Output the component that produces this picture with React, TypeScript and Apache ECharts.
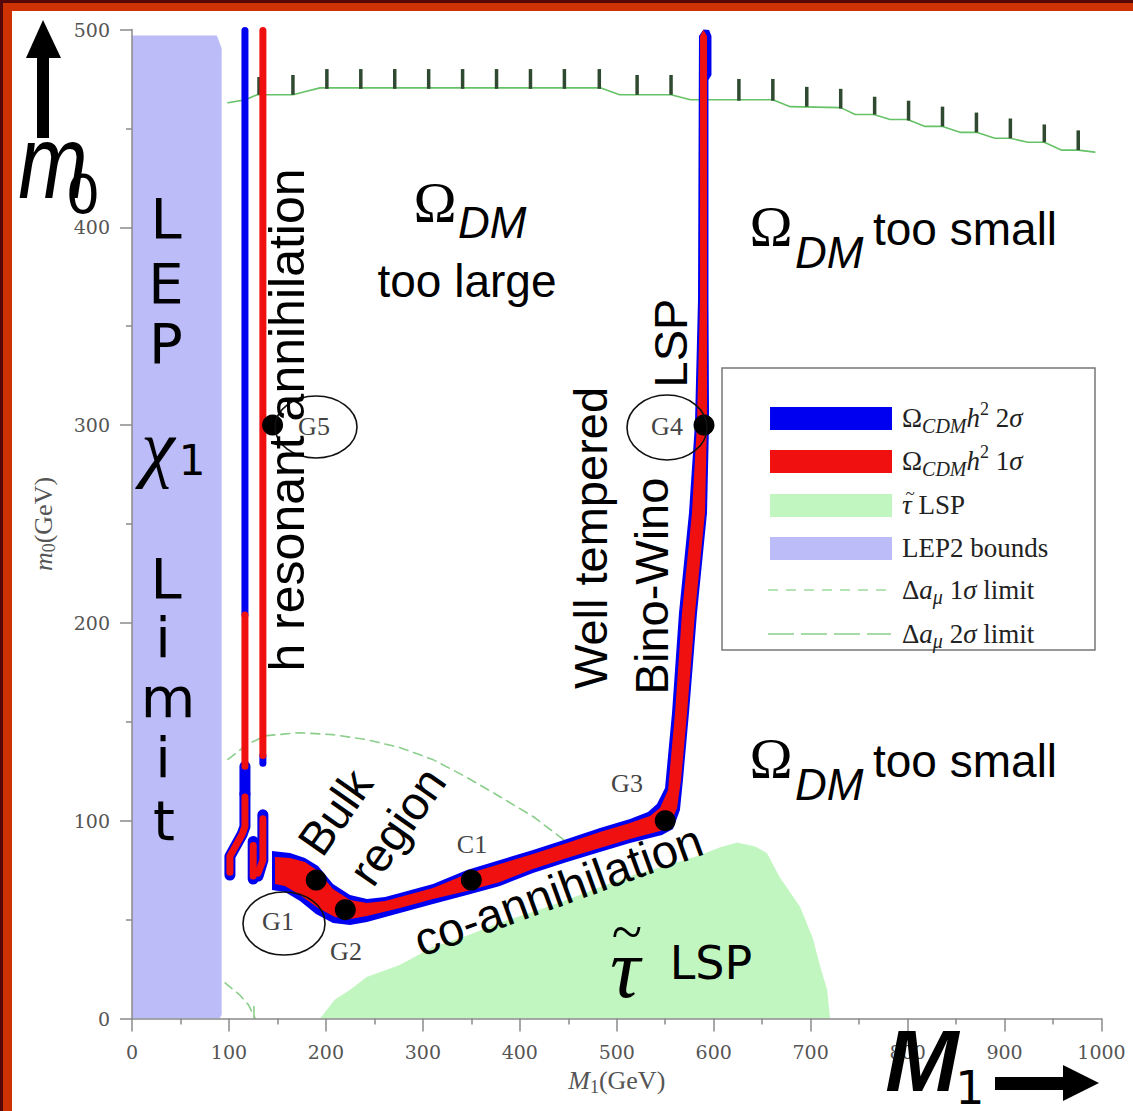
import React, { useEffect, useRef } from 'react';
import * as echarts from 'echarts';

// ---------------- data (all in GeV) ----------------
const X_MIN = 0, X_MAX = 1000, X_STEP = 100;
const Y_MIN = 0, Y_MAX = 500, Y_STEP = 100;

const LEP2_BOUNDS: number[][] = [[0, 0], [0, 497], [87.5, 497], [92.5, 490.5], [92.5, 2], [90.5, 0]];

const STAU_LSP: number[][] = [[194, 0], [209, 9.5], [225, 14.5], [242, 21], [276, 27], [310, 36], [346, 42], [380, 48.5], [414, 54], [449, 60], [483, 66.5], [517, 72.5], [552, 77.5], [586, 82.5], [606, 86.5], [624, 89], [643, 87], [655, 83.5], [668, 71.5], [689, 56.5], [702, 41], [710, 26], [717, 14.5], [720, 0]];

const OMEGA_2SIGMA_STRIP: number[][] = [[144.4, 84.7], [163, 83.7], [178.4, 81.1], [191.9, 77.1], [207.3, 68], [224.9, 62.4], [242.4, 60.4], [261, 61.4], [276.4, 63.4], [310.5, 68], [345.5, 75.1], [379.6, 80.1], [413.6, 85.2], [448.7, 90.8], [482.7, 96.3], [513.7, 100.9], [532.2, 104.4], [541.5, 108.4], [549.8, 116.5], [557, 154.5], [564.2, 205], [574.5, 255.6], [580.7, 301.1], [583.8, 363.2], [584.8, 496.7], [589.5, 500], [595.2, 499.8], [597.7, 496.7], [597.7, 477], [594.6, 474.5], [594.6, 363.2], [595.2, 301.1], [593.1, 255.6], [582.8, 205], [574.5, 154.5], [568.3, 120.6], [565.2, 105.4], [558, 95.8], [546.7, 92.8], [513.7, 88.7], [482.7, 84.2], [448.7, 79.1], [413.6, 73.6], [379.6, 67], [345.5, 62.4], [310.5, 57.9], [276.4, 53.3], [242.4, 48.8], [224.9, 47.3], [207.3, 48.3], [189.8, 52.8], [173.3, 59.4], [157.8, 64], [144.4, 65]];

const OMEGA_1SIGMA_STRIP: number[][] = [[147.5, 81.7], [163, 81.1], [178.4, 79.1], [191.9, 74.6], [207.3, 65.5], [224.9, 59.9], [242.4, 58.4], [261, 59.4], [276.4, 61.4], [310.5, 66], [345.5, 73.1], [379.6, 78.1], [413.6, 83.2], [448.7, 88.7], [482.7, 94.3], [513.7, 98.8], [534.3, 102.4], [544.6, 106.4], [552.9, 115.5], [560.1, 154.5], [567.3, 205], [577.6, 255.6], [582.8, 301.1], [585.9, 363.2], [585.9, 496.7], [589.5, 499.8], [593.1, 496.7], [593.1, 363.2], [593.1, 301.1], [591, 255.6], [580.7, 205], [572.5, 154.5], [566.3, 120.6], [562.2, 106.4], [554.9, 97.8], [544.6, 94.8], [513.7, 90.8], [482.7, 86.2], [448.7, 81.1], [413.6, 75.6], [379.6, 69], [345.5, 64.5], [310.5, 60.4], [276.4, 55.9], [242.4, 51.8], [224.9, 50.3], [209.4, 51.3], [191.9, 55.9], [173.3, 62.4], [157.8, 67], [147.5, 68]];

// narrow h-resonance funnels
const OMEGA_2SIGMA_THIN: number[][][] = [
  [[116.5, 499.5], [116.5, 204]],
  [[135, 133], [135, 129]],
];
const OMEGA_2SIGMA_EDGE: number[][][] = [
  [[116.5, 127.5], [116.5, 113.5]],
  [[116.5, 113.5], [116.5, 97], [113.5, 93], [101, 82], [101, 72.5]],
  [[135, 103], [135, 80], [130, 72]],
  [[125, 89.5], [125, 70.5]],
];
const OMEGA_1SIGMA_LINES: number[][][] = [
  [[116.5, 204], [116.5, 127.5]],
  [[116.5, 112], [116.5, 97], [113.5, 93], [101, 82], [101, 74]],
  [[135, 499.5], [135, 133]],
  [[135, 101], [135, 80], [130, 73.5]],
  [[125, 87.5], [125, 72]],
];

const DELTA_A_1SIGMA: number[][] = [[99, 131], [120, 139], [139, 143], [173, 144.5], [207, 143.5], [242, 141], [276, 137], [310, 131], [345, 122], [380, 112], [414, 102], [449, 89]];
const DELTA_A_1SIGMA_LOW: number[][] = [[96, 18], [111, 12], [120, 7], [127, 0]];
const DELTA_A_2SIGMA_LOW: number[][] = [[125.8, 6], [125.8, 0.5]];
const DELTA_A_2SIGMA_TOP: number[][] = [[99, 463], [117, 464.5], [129, 467], [166, 467], [178, 468.5], [194, 470.5], [483, 470.5], [503, 467], [556, 467], [576, 464.5], [661, 464.5], [679, 461], [731, 460.5], [746, 457], [765, 457], [782, 454.5], [800, 454.5], [818, 451], [836, 451], [854, 448], [871, 448], [890, 445], [906, 445], [924, 443], [941, 443], [959, 439], [976, 439], [993, 438]];
const COMB_X = [131, 166, 201, 236, 271, 306, 341, 376, 411, 446, 482, 521, 556, 591, 626, 661, 696, 731, 766, 801, 836, 871, 906, 941, 976];
const COMB_BOTTOM = [467, 467, 470, 470, 470, 470, 470, 470, 470, 470, 470, 467, 467, 464, 464, 464, 461, 460, 457, 454, 451, 448, 445, 443, 439];
const COMB_TOP = [476, 477, 480, 480, 480, 480, 480, 480, 480, 480, 480, 477, 477, 474, 475, 475, 471, 470, 466, 464, 461, 458, 455, 452, 449];

const BENCH_NAMES = ['G1', 'G2', 'C1', 'G3', 'G4', 'G5'];
const BENCH_M1 = [190, 220, 350, 550, 590, 145];
const BENCH_M0 = [70, 55, 70, 100, 300, 300];

// ---------------- styles ----------------
const SANS = '"Liberation Sans", Arial, sans-serif';
const SERIF = '"Liberation Serif", "Times New Roman", serif';
const DSANS = '"DejaVu Sans", sans-serif';
const DSERIF = '"DejaVu Serif", serif';
const BLUE = '#0000f0';
const RED = '#f01010';
const AXIS = '#8a8a8a';
const deg = (d: number) => (d * Math.PI) / 180;

function txt(x: number, y: number, text: string, font: string, opt: any = {}) {
  const style: any = {
    text, font, fill: opt.fill ?? '#000',
    align: opt.align ?? 'center', verticalAlign: 'middle',
    textAlign: opt.align ?? 'center', textVerticalAlign: 'middle',
  };
  if (opt.rich) style.rich = opt.rich;
  return {
    type: 'text', x, y, z: 100, silent: true,
    rotation: opt.rot ? deg(opt.rot) : 0,
    scaleX: opt.sx ?? 1,
    style,
  };
}

const LEG = '#222';
function rs(size: number, italic = false, pad?: number[]) {
  const o: any = { fontFamily: SERIF, fontSize: size, fontStyle: italic ? 'italic' : 'normal', fill: LEG };
  if (pad) o.padding = pad;
  return o;
}
const LEG_RICH = {
  n: rs(27), o: rs(27), h: rs(27, true), g: rs(27, true),
  s: rs(20, true, [16, 0, 0, 0]), p: rs(18, false, [0, 0, 18, 0]), m: rs(20, true, [14, 0, 0, 0]),
};

function polygonSeries(pts: number[][], color: string, z: number) {
  return {
    type: 'custom', coordinateSystem: 'cartesian2d', z, silent: true,
    data: pts, encode: { x: 0, y: 1 },
    renderItem: (params: any, api: any) =>
      params.dataIndex === 0
        ? { type: 'polygon', shape: { points: pts.map((p) => api.coord(p)) }, style: { fill: color } }
        : null,
  };
}
function lineSeries(pts: number[][], color: string, width: number, z: number, dash?: number[]) {
  return {
    type: 'line', data: pts, symbol: 'none', showSymbol: false, z, silent: true,
    lineStyle: { color, width, cap: 'round', join: 'round', type: dash ?? 'solid' },
    emphasis: { disabled: true },
  };
}

const AX_RICH = (c: string) => ({
  i: { fontFamily: SERIF, fontSize: 26, fontStyle: 'italic', color: c },
  s: { fontFamily: SERIF, fontSize: 18, color: c, padding: [12, 0, 0, 0] },
  n: { fontFamily: SERIF, fontSize: 26, color: c },
});

export default function App() {
  const ref = useRef<HTMLDivElement>(null);
  useEffect(() => {
    const chart = echarts.init(ref.current!, null, { renderer: 'svg' });
    const graphicEls: any[] = [
      // legend
      { type: 'rect', z: 50, silent: true, shape: { x: 722, y: 368, width: 373, height: 282 }, style: { fill: '#fff', stroke: '#777', lineWidth: 1.5 } },
      { type: 'rect', z: 51, silent: true, shape: { x: 770, y: 407, width: 122, height: 23 }, style: { fill: BLUE } },
      { type: 'rect', z: 51, silent: true, shape: { x: 770, y: 450, width: 122, height: 23 }, style: { fill: RED } },
      { type: 'rect', z: 51, silent: true, shape: { x: 770, y: 494, width: 122, height: 23 }, style: { fill: '#c1f6c1' } },
      { type: 'rect', z: 51, silent: true, shape: { x: 770, y: 537, width: 122, height: 23 }, style: { fill: '#bcbcf8' } },
      { type: 'line', z: 51, silent: true, shape: { x1: 768, y1: 590, x2: 891, y2: 590 }, style: { stroke: '#b5e5b5', lineWidth: 2, lineDash: [10, 8] } },
      { type: 'line', z: 51, silent: true, shape: { x1: 768, y1: 634, x2: 891, y2: 634 }, style: { stroke: '#a6dba6', lineWidth: 2, lineDash: [26, 7] } },
      txt(902, 418, '{o|Ω}{s|CDM}{h|h}{p|2}{n| 2}{g|σ}', `27px ${SERIF}`, { align: 'left', rich: LEG_RICH, fill: LEG }),
      txt(902, 461, '{o|Ω}{s|CDM}{h|h}{p|2}{n| 1}{g|σ}', `27px ${SERIF}`, { align: 'left', rich: LEG_RICH, fill: LEG }),
      txt(902, 505, '{g|τ}{n| LSP}', `27px ${SERIF}`, { align: 'left', rich: LEG_RICH, fill: LEG }),
      txt(910, 493, '~', `17px ${SERIF}`, { fill: LEG }),
      txt(902, 548, '{n|LEP2 bounds}', `27px ${SERIF}`, { align: 'left', rich: LEG_RICH, fill: LEG }),
      txt(902, 590, '{n|Δ}{h|a}{m|μ}{n| 1}{g|σ}{n| limit}', `27px ${SERIF}`, { align: 'left', rich: LEG_RICH, fill: LEG }),
      txt(902, 634, '{n|Δ}{h|a}{m|μ}{n| 2}{g|σ}{n| limit}', `27px ${SERIF}`, { align: 'left', rich: LEG_RICH, fill: LEG }),

      // benchmark ellipses and labels
      { type: 'ellipse', z: 90, silent: true, shape: { cx: 284, cy: 923.5, rx: 41, ry: 31.5 }, style: { fill: 'none', stroke: '#111', lineWidth: 1.6 } },
      { type: 'ellipse', z: 90, silent: true, shape: { cx: 316, cy: 427, rx: 41, ry: 31 }, style: { fill: 'none', stroke: '#111', lineWidth: 1.6 } },
      { type: 'ellipse', z: 90, silent: true, shape: { cx: 667, cy: 427.5, rx: 40, ry: 32.5 }, style: { fill: 'none', stroke: '#111', lineWidth: 1.6 } },
      txt(278, 921, BENCH_NAMES[0], `26px ${SERIF}`, { fill: '#444' }),
      txt(346, 951, BENCH_NAMES[1], `26px ${SERIF}`, { fill: '#444' }),
      txt(472, 844, BENCH_NAMES[2], `26px ${SERIF}`, { fill: '#444' }),
      txt(627, 783, BENCH_NAMES[3], `26px ${SERIF}`, { fill: '#444' }),
      txt(667, 426, BENCH_NAMES[4], `26px ${SERIF}`, { fill: '#444' }),
      txt(314, 426, BENCH_NAMES[5], `26px ${SERIF}`, { fill: '#444' }),

      // big annotations
      txt(435, 202, 'Ω', `58px ${SERIF}`),
      txt(458, 222, 'DM', `italic 44px ${SANS}`, { align: 'left' }),
      txt(467, 281, 'too large', `46px ${SANS}`),
      txt(771, 226, 'Ω', `58px ${SERIF}`),
      txt(795, 252, 'DM', `italic 44px ${SANS}`, { align: 'left' }),
      txt(873, 229, 'too small', `46px ${SANS}`, { align: 'left' }),
      txt(771, 758, 'Ω', `58px ${SERIF}`),
      txt(795, 784, 'DM', `italic 44px ${SANS}`, { align: 'left' }),
      txt(873, 761, 'too small', `46px ${SANS}`, { align: 'left' }),

      txt(166, 218, 'L', `56px ${DSANS}`),
      txt(166, 283, 'E', `56px ${DSANS}`),
      txt(166, 343, 'P', `56px ${DSANS}`),
      txt(158, 447, 'χ', `italic 76px ${SERIF}`),
      txt(192, 460, '1', `42px ${DSANS}`),
      txt(166, 578, 'L', `56px ${DSANS}`),
      txt(163, 637, 'i', `56px ${DSANS}`),
      txt(168, 697, 'm', `56px ${DSANS}`),
      txt(163, 757, 'i', `56px ${DSANS}`),
      txt(164, 820, 't', `56px ${DSANS}`),

      txt(287, 420, 'h resonant annihilation', `50px ${SANS}`, { rot: 90 }),
      txt(590, 538, 'Well tempered', `47px ${SANS}`, { rot: 90 }),
      txt(651, 586, 'Bino-Wino', `47px ${SANS}`, { rot: 90 }),
      txt(670, 343, 'LSP', `47px ${SANS}`, { rot: 90 }),
      txt(335, 812, 'Bulk', `47px ${SANS}`, { rot: 55 }),
      txt(397, 826, 'region', `47px ${SANS}`, { rot: 55 }),
      txt(558, 890, 'co-annihilation', `47px ${SANS}`, { rot: 20 }),

      txt(625, 968, 'τ', `italic 84px ${SERIF}`),
      txt(627, 932, '~', `56px ${SERIF}`),
      txt(711, 963, 'LSP', `46px ${DSANS}`),

      // axis arrows
      txt(53, 162, 'm', `italic 104px ${SANS}`, { sx: 0.8 }),
      txt(83, 194, '0', `54px ${DSANS}`),
      { type: 'rect', z: 100, silent: true, shape: { x: 37, y: 55, width: 12, height: 83 }, style: { fill: '#000' } },
      { type: 'polygon', z: 100, silent: true, shape: { points: [[26, 58], [43, 20], [61, 58]] }, style: { fill: '#000' } },
      txt(922, 1060, 'M', `italic bold 88px ${SANS}`),
      txt(970, 1088, '1', `46px ${DSANS}`),
      { type: 'rect', z: 100, silent: true, shape: { x: 995, y: 1077, width: 70, height: 13 }, style: { fill: '#000' } },
      { type: 'polygon', z: 100, silent: true, shape: { points: [[1063, 1065], [1099, 1083], [1063, 1101]] }, style: { fill: '#000' } },
    ];

    const series: any[] = [
      polygonSeries(LEP2_BOUNDS, '#bcbcf8', 1),
      polygonSeries(STAU_LSP, '#c1f6c1', 1),
      lineSeries(DELTA_A_1SIGMA, '#8ccf8c', 1.6, 2, [9, 6]),
      lineSeries(DELTA_A_1SIGMA_LOW, '#8ccf8c', 1.6, 2, [9, 6]),
      lineSeries(DELTA_A_2SIGMA_LOW, '#8ccf8c', 1.6, 2),
      lineSeries(DELTA_A_2SIGMA_TOP, '#66c266', 1.6, 2),
      {
        type: 'custom', coordinateSystem: 'cartesian2d', z: 3, silent: true,
        data: COMB_X.map((x, i) => [x, COMB_BOTTOM[i], COMB_TOP[i]]),
        encode: { x: 0, y: [1, 2] },
        renderItem: (params: any, api: any) => {
          const a = api.coord([api.value(0), api.value(1)]);
          const b = api.coord([api.value(0), api.value(2)]);
          return { type: 'line', shape: { x1: a[0], y1: a[1], x2: b[0], y2: b[1] }, style: { stroke: '#2f4a30', lineWidth: 3.5 } };
        },
      },
      polygonSeries(OMEGA_2SIGMA_STRIP, BLUE, 4),
      polygonSeries(OMEGA_1SIGMA_STRIP, RED, 5),
      ...OMEGA_2SIGMA_THIN.map((p) => lineSeries(p, BLUE, 7, 4)),
      ...OMEGA_2SIGMA_EDGE.map((p) => lineSeries(p, BLUE, 11, 4)),
      ...OMEGA_1SIGMA_LINES.map((p) => lineSeries(p, RED, 7, 5)),
      {
        type: 'scatter', z: 10, silent: true, symbol: 'circle', symbolSize: 21,
        itemStyle: { color: '#000', opacity: 1 },
        data: BENCH_M1.map((x, i) => [x, BENCH_M0[i]]),
      },
    ];

    chart.setOption({
      animation: false,
      textStyle: { fontFamily: SERIF },
      grid: { left: 132, right: 31.5, top: 29.5, bottom: 92.5, containLabel: false },
      xAxis: {
        type: 'value', min: X_MIN, max: X_MAX, interval: X_STEP, z: 6,
        axisLine: { show: true, onZero: false, lineStyle: { color: AXIS, width: 1.5 } },
        axisTick: { show: true, length: 13, lineStyle: { color: AXIS, width: 1.5 } },
        minorTick: { show: true, splitNumber: 2, length: 6, lineStyle: { color: AXIS, width: 1.5 } },
        splitLine: { show: false }, minorSplitLine: { show: false },
        axisLabel: { margin: 24, fontFamily: DSERIF, fontSize: 19, color: '#555', formatter: (v: number) => String(v) },
        name: '{i|M}{s|1}{n|(GeV)}', nameLocation: 'middle', nameGap: 47,
        nameTextStyle: { fontFamily: SERIF, fontSize: 26, color: '#555', rich: AX_RICH('#555') },
      },
      yAxis: {
        type: 'value', min: Y_MIN, max: Y_MAX, interval: Y_STEP, z: 6,
        axisLine: { show: true, onZero: false, lineStyle: { color: AXIS, width: 1.5 } },
        axisTick: { show: true, length: 12, lineStyle: { color: AXIS, width: 1.5 } },
        minorTick: { show: true, splitNumber: 2, length: 6, lineStyle: { color: AXIS, width: 1.5 } },
        splitLine: { show: false }, minorSplitLine: { show: false },
        axisLabel: { margin: 22, fontFamily: DSERIF, fontSize: 19, color: '#555', formatter: (v: number) => String(v) },
        name: '{i|m}{s|0}{n|(GeV)}', nameLocation: 'middle', nameGap: 74, nameRotate: 90,
        nameTextStyle: { fontFamily: SERIF, fontSize: 26, color: '#555', rich: AX_RICH('#555') },
      },
      series,
      graphic: { elements: graphicEls },
    });
    return () => chart.dispose();
  }, []);

  return (
    <div style={{ position: 'absolute', left: 0, top: 0, width: 1133, height: 1111, background: '#560707', overflow: 'hidden' }}>
      <div style={{ position: 'absolute', left: 3, top: 3, right: 0, bottom: 0, background: '#cc3300' }} />
      <div style={{ position: 'absolute', left: 12, top: 11, right: 0, bottom: 0, background: '#ffffff' }} />
      <div ref={ref} style={{ position: 'absolute', left: 0, top: 0, width: 1133, height: 1111 }} />
    </div>
  );
}
